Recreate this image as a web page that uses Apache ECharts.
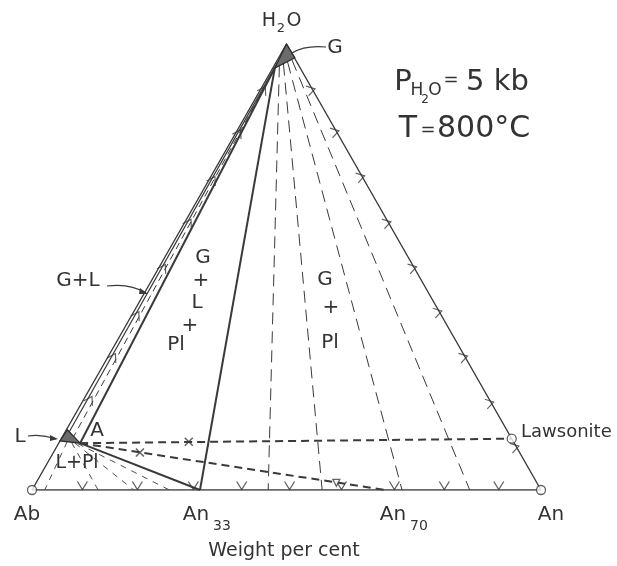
<!DOCTYPE html>
<html>
<head>
<meta charset="utf-8">
<script src="https://cdn.jsdelivr.net/npm/echarts@6/dist/echarts.min.js"></script>
<style>
  html, body { margin: 0; background: #fff; }
  #main { width: 617px; height: 566px; }
</style>
</head>
<body>
<div id="main"></div>
<script>
// all compositions are [An wt%, H2O wt%]; Ab is whatever is left
const corners = [[0, 0], [100, 0], [0, 100]];          // Ab, An, H2O
const liquidField = [[0, 11], [0.2, 13.5], [4.2, 10.5]];
const gasField = [[0, 100], [0.4, 94.6], [3.2, 96.9]];
const pointA = [4.2, 10.5];
const pointG = [0.4, 94.6];
const lawsonite = [88.5, 11.5];
const an33 = [33, 0];
const an70 = [69.5, 0];
const bandLeft = [[0.8, 12], [0.3, 96]];
const bandMid = [[2.2, 11.5], [0.4, 95.5]];
const gasTieStart = [[1.0, 95.2], [1.6, 95.6], [2.2, 96.0], [2.8, 96.5]];
const gasTieEnd = [46.4, 57, 72.7, 86];
const liqTieStart = [[1.5, 10.8], [2.5, 10.6], [3.2, 10.5], [3.8, 10.4]];
const liqTieEnd = [2.5, 13, 20, 27];
const baseArrows = [9.4, 20.2, 31.2, 40.7, 50.1, 60.3, 70.7, 80.5, 91.2];
const edgeArrows = [89.7, 80.3, 70.2, 59.9, 49.8, 39.9, 29.8, 19.5, 9.6];   // H2O % on An-H2O side
const bandArrows = [[0.6, 89.7], [0.6, 80], [0.8, 69.5], [0.9, 59.9], [0.9, 49.8], [1.0, 39.2], [1.1, 29.8], [1.3, 20.2]];
const crosses = [[25.4, 10.8], [17, 8.4]];
const triMark = [[59, 1.6]];

// ternary -> plot coords (x along Ab-An, y = H2O)
function pt(c) {
    return [(c[0] + c[1] / 2) / 100, c[1] / 100];
}

const ink = '#3a3a3a';
const chev = 'path://M0,0L5,8L10,0';

function seg(points, width, type) {
    return {
        type: 'line',
        data: points.map(pt),
        symbol: 'none',
        silent: true,
        lineStyle: { color: ink, width: width, type: type || 'solid' },
        z: 3
    };
}

var chart = echarts.init(document.getElementById('main'));

var series = [];
// triangle outline
series.push(seg([corners[0], corners[1], corners[2], corners[0]], 1.4));
// G+L band
series.push(seg(bandLeft, 1.2));
series.push(seg(bandMid, 1, [7, 5]));
series.push(seg([pointA, pointG], 2));
// three phase triangle
series.push(seg([pointA, an33], 2));
series.push(seg([an33, pointG], 2));
// gas + plagioclase tie lines
gasTieStart.forEach(function (s, i) {
    series.push(seg([s, [gasTieEnd[i], 0]], 1, [12, 7]));
});
// liquid + plagioclase tie lines
liqTieStart.forEach(function (s, i) {
    series.push(seg([s, [liqTieEnd[i], 0]], 0.9, [6, 6]));
});
// heavy dashed lines from A
series.push(seg([pointA, lawsonite], 2, [8, 5]));
series.push(seg([pointA, an70], 2, [8, 5]));

// shaded fields
var fields = [liquidField, gasField];
series.push({
    type: 'custom',
    silent: true,
    z: 5,
    data: [[0], [1]],
    renderItem: function (params, api) {
        var poly = fields[params.dataIndex];
        return {
            type: 'polygon',
            shape: { points: poly.map(function (c) { return api.coord(pt(c)); }) },
            style: { fill: '#6b6b6b', stroke: '#2a2a2a', lineWidth: 1.2 }
        };
    }
});

// chevrons
function chevrons(list, rot) {
    return {
        type: 'scatter',
        silent: true,
        symbol: chev,
        symbolSize: [10, 8],
        symbolRotate: rot,
        itemStyle: { color: 'rgba(0,0,0,0)', borderColor: ink, borderWidth: 1.1 },
        data: list.map(pt),
        z: 4
    };
}
series.push(chevrons(baseArrows.map(function (a) { return [a, 1.0]; }), 0));
series.push(chevrons(edgeArrows.map(function (w) { return [100 - w - 0.3, w]; }), 105));
series.push(chevrons(bandArrows, 150));

series.push({
    type: 'scatter',
    silent: true,
    symbol: 'path://M0,0L10,10M10,0L0,10',
    symbolSize: 8,
    itemStyle: { color: 'rgba(0,0,0,0)', borderColor: ink, borderWidth: 1.5 },
    data: crosses.map(pt),
    z: 6
});
series.push({
    type: 'scatter',
    silent: true,
    symbol: 'triangle',
    symbolRotate: 180,
    symbolSize: 7,
    itemStyle: { color: '#fff', borderColor: ink, borderWidth: 1.2 },
    data: triMark.map(pt),
    z: 6
});
// open circles at Ab, An, lawsonite
series.push({
    type: 'scatter',
    silent: true,
    symbol: 'circle',
    symbolSize: 9,
    itemStyle: { color: '#fff', borderColor: ink, borderWidth: 1.3 },
    data: [corners[0], corners[1], lawsonite].map(pt),
    z: 7
});

var font = '"DejaVu Sans", sans-serif';
function txt(s, x, y, size, align) {
    return {
        type: 'text', x: x, y: y, z: 20, silent: true,
        style: { text: s, fontSize: size, fontFamily: font, fill: '#333', align: align || 'center', verticalAlign: 'middle' }
    };
}

var graphics = [
    txt('H', 269, 21, 19), txt('2', 281, 29, 13), txt('O', 294, 21, 19),
    txt('G', 335, 48, 20),
    txt('P', 403, 82, 29), txt('H', 417, 91, 17), txt('2', 425, 100, 12), txt('O', 435, 91, 17),
    txt('=', 451, 80, 18), txt('5 kb', 466, 82, 29, 'left'),
    txt('T', 408, 129, 30), txt('=', 428, 130, 18), txt('800°C', 437, 129, 30, 'left'),
    txt('G+L', 78, 281, 20),
    txt('G', 203, 258, 20), txt('+', 201, 281, 20), txt('L', 197, 303, 20), txt('+', 190, 326, 20), txt('Pl', 176, 345, 20),
    txt('G', 325, 280, 20), txt('+', 331, 308, 20), txt('Pl', 330, 343, 20),
    txt('L', 20, 437, 20), txt('A', 97, 431, 20), txt('L+Pl', 77, 463, 19),
    txt('Lawsonite', 521, 432, 18, 'left'),
    txt('Ab', 27, 515, 20),
    txt('An', 196, 515, 20), txt('33', 222, 526, 14),
    txt('An', 393, 515, 20), txt('70', 419, 526, 14),
    txt('An', 551, 515, 20),
    txt('Weight per cent', 284, 551, 19),
    // leaders
    { type: 'bezierCurve', z: 20, silent: true,
      shape: { x1: 292, y1: 53, x2: 326, y2: 47, cpx1: 305, cpy1: 45 },
      style: { stroke: ink, lineWidth: 1.2, fill: null } },
    { type: 'bezierCurve', z: 20, silent: true,
      shape: { x1: 107, y1: 286, x2: 146, y2: 293, cpx1: 130, cpy1: 283 },
      style: { stroke: ink, lineWidth: 1.2, fill: null } },
    { type: 'polygon', z: 20, silent: true,
      shape: { points: [[148, 294], [140, 288], [139, 294]] }, style: { fill: ink } },
    { type: 'bezierCurve', z: 20, silent: true,
      shape: { x1: 28, y1: 436, x2: 56, y2: 439, cpx1: 42, cpy1: 434 },
      style: { stroke: ink, lineWidth: 1.2, fill: null } },
    { type: 'polygon', z: 20, silent: true,
      shape: { points: [[58, 439], [50, 435], [50, 441]] }, style: { fill: ink } }
];

var option = {
    animation: false,
    backgroundColor: '#fff',
    grid: { left: 32, top: 44, width: 509, height: 446 },
    xAxis: { type: 'value', min: 0, max: 1, show: false },
    yAxis: { type: 'value', min: 0, max: 1, show: false },
    series: series,
    graphic: graphics
};
chart.setOption(option);
</script>
</body>
</html>
